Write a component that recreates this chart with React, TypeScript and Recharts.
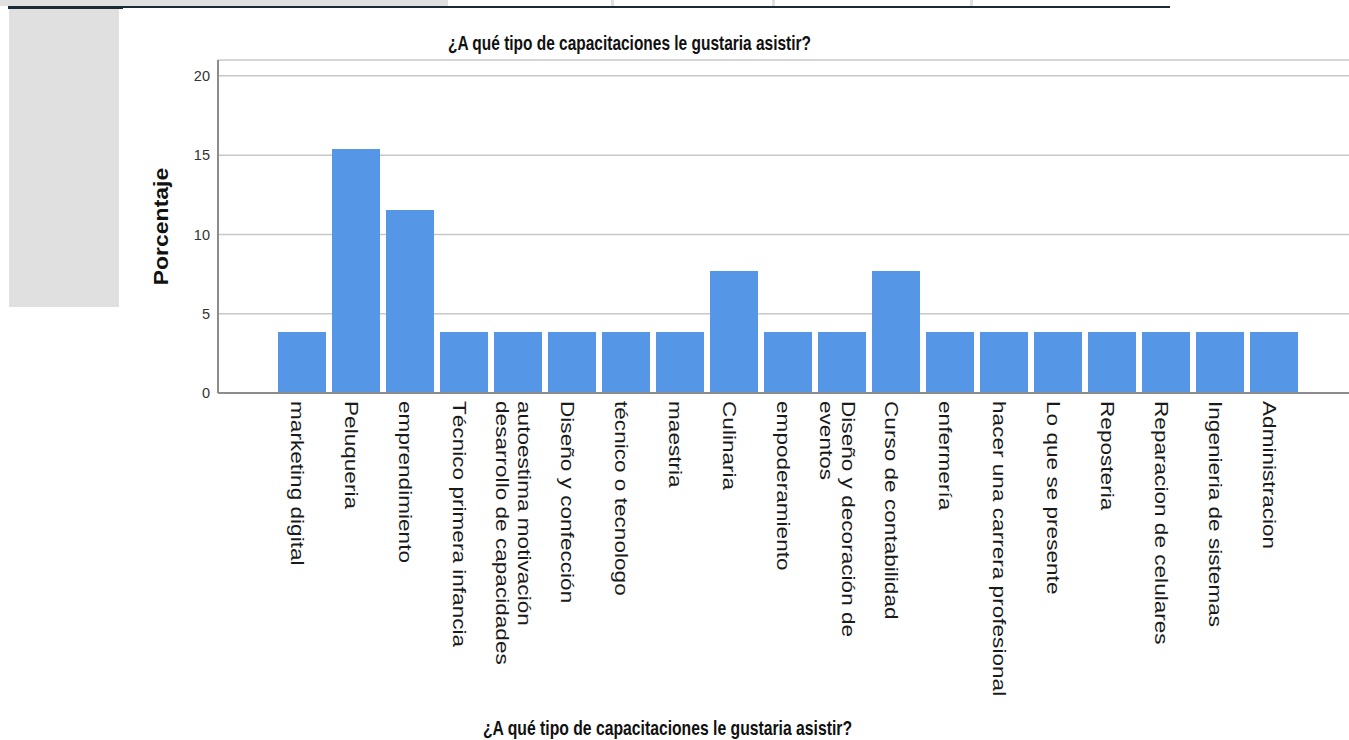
import React from 'react';
import { BarChart, Bar, XAxis, YAxis, CartesianGrid } from 'recharts';

// Frequencies (percent of respondents)
const categories = [
  'marketing digital',
  'Peluqueria',
  'emprendimiento',
  'Técnico primera infancia',
  'autoestima motivación\ndesarrollo de capacidades',
  'Diseño y confección',
  'técnico o tecnologo',
  'maestria',
  'Culinaria',
  'empoderamiento',
  'Diseño y decoración de\neventos',
  'Curso de contabilidad',
  'enfermería',
  'hacer una carrera profesional',
  'Lo que se presente',
  'Reposteria',
  'Reparacion de celulares',
  'Ingenieria de sistemas',
  'Administracion',
];

const percentages = [
  3.85, 15.38, 11.54, 3.85, 3.85, 3.85, 3.85, 3.85, 7.69, 3.85,
  3.85, 7.69, 3.85, 3.85, 3.85, 3.85, 3.85, 3.85, 3.85,
];

const yTicks = [0, 5, 10, 15, 20];

const chartTitle = '¿A qué tipo de capacitaciones le gustaria asistir?';
const yTitle = 'Porcentaje';

const FONT = '"Liberation Sans", Arial, sans-serif';
const BAR_COLOR = '#5596e6';

const data = categories.map((name, i) => ({ name, value: percentages[i] }));

// rotated category labels, reading top to bottom like the SPSS output
const CategoryTick = ({ x, y, payload }: any) => {
  const lines = String(payload.value).split('\n');
  return (
    <g>
      {lines.map((line, i) => {
        const dx = -4 + ((lines.length - 1) / 2 - i) * 22;
        return (
          <text
            key={i}
            transform={`translate(${x + dx}, ${y}) scale(0.85, 1) rotate(90)`}
            x={0}
            y={0}
            dy="0.35em"
            fontSize={22.6}
            fill="#1a1a1a"
            fontFamily={FONT}
          >
            {line}
          </text>
        );
      })}
    </g>
  );
};

export default function App() {
  return (
    <div
      style={{
        position: 'absolute',
        left: 0,
        top: 0,
        width: 1349,
        height: 740,
        background: '#fff',
        overflow: 'hidden',
      }}
    >
      <BarChart
        width={1349}
        height={740}
        data={data}
        margin={{ top: 60, right: 0, bottom: 0, left: 0 }}
      >
        <CartesianGrid vertical={false} stroke="#c8c8c8" strokeWidth={1.5} />
        <XAxis
          dataKey="name"
          interval={0}
          height={347}
          tickLine={false}
          axisLine={{ stroke: '#8c8c8c', strokeWidth: 2 }}
          padding={{ left: 57, right: 48 }}
          tick={<CategoryTick />}
        />
        <YAxis
          width={218}
          domain={[0, 21]}
          ticks={yTicks}
          tickLine={false}
          axisLine={{ stroke: '#8c8c8c', strokeWidth: 2 }}
          tick={{ fontSize: 14.5, fill: '#333', fontFamily: FONT }}
        />
        <Bar dataKey="value" fill={BAR_COLOR} barSize={48} isAnimationActive={false} />
      </BarChart>

      {/* surrounding viewer chrome and titles */}
      <svg
        width={1349}
        height={740}
        style={{ position: 'absolute', left: 0, top: 0, pointerEvents: 'none' }}
      >
        <rect x={0} y={0} width={448} height={6} fill="#e0e0e0" />
        <rect x={611} y={0} width={3} height={6} fill="#e0e0e0" />
        <rect x={772} y={0} width={3} height={6} fill="#e0e0e0" />
        <rect x={970} y={0} width={3} height={6} fill="#e0e0e0" />
        <rect x={8} y={6} width={1162} height={2} fill="#1c2a35" />
        <rect x={8} y={6} width={115} height={3} fill="#1c2a35" />
        <rect x={9} y={9} width={110} height={298} fill="#e0e0e0" />

        <text
          x={629.5}
          y={49.5}
          textAnchor="middle"
          fontSize={21}
          fontWeight="bold"
          fill="#111"
          fontFamily={FONT}
          textLength={363}
          lengthAdjust="spacingAndGlyphs"
        >
          {chartTitle}
        </text>
        <text
          transform="translate(160.5, 226.5) scale(0.9, 1) rotate(-90)"
          x={0}
          y={0}
          dy="0.35em"
          textAnchor="middle"
          fontSize={23}
          fontWeight="bold"
          fill="#111"
          fontFamily={FONT}
        >
          {yTitle}
        </text>
        <text
          x={667.5}
          y={734.5}
          textAnchor="middle"
          fontSize={21}
          fontWeight="bold"
          fill="#111"
          fontFamily={FONT}
          textLength={369}
          lengthAdjust="spacingAndGlyphs"
        >
          {chartTitle}
        </text>
      </svg>
    </div>
  );
}
